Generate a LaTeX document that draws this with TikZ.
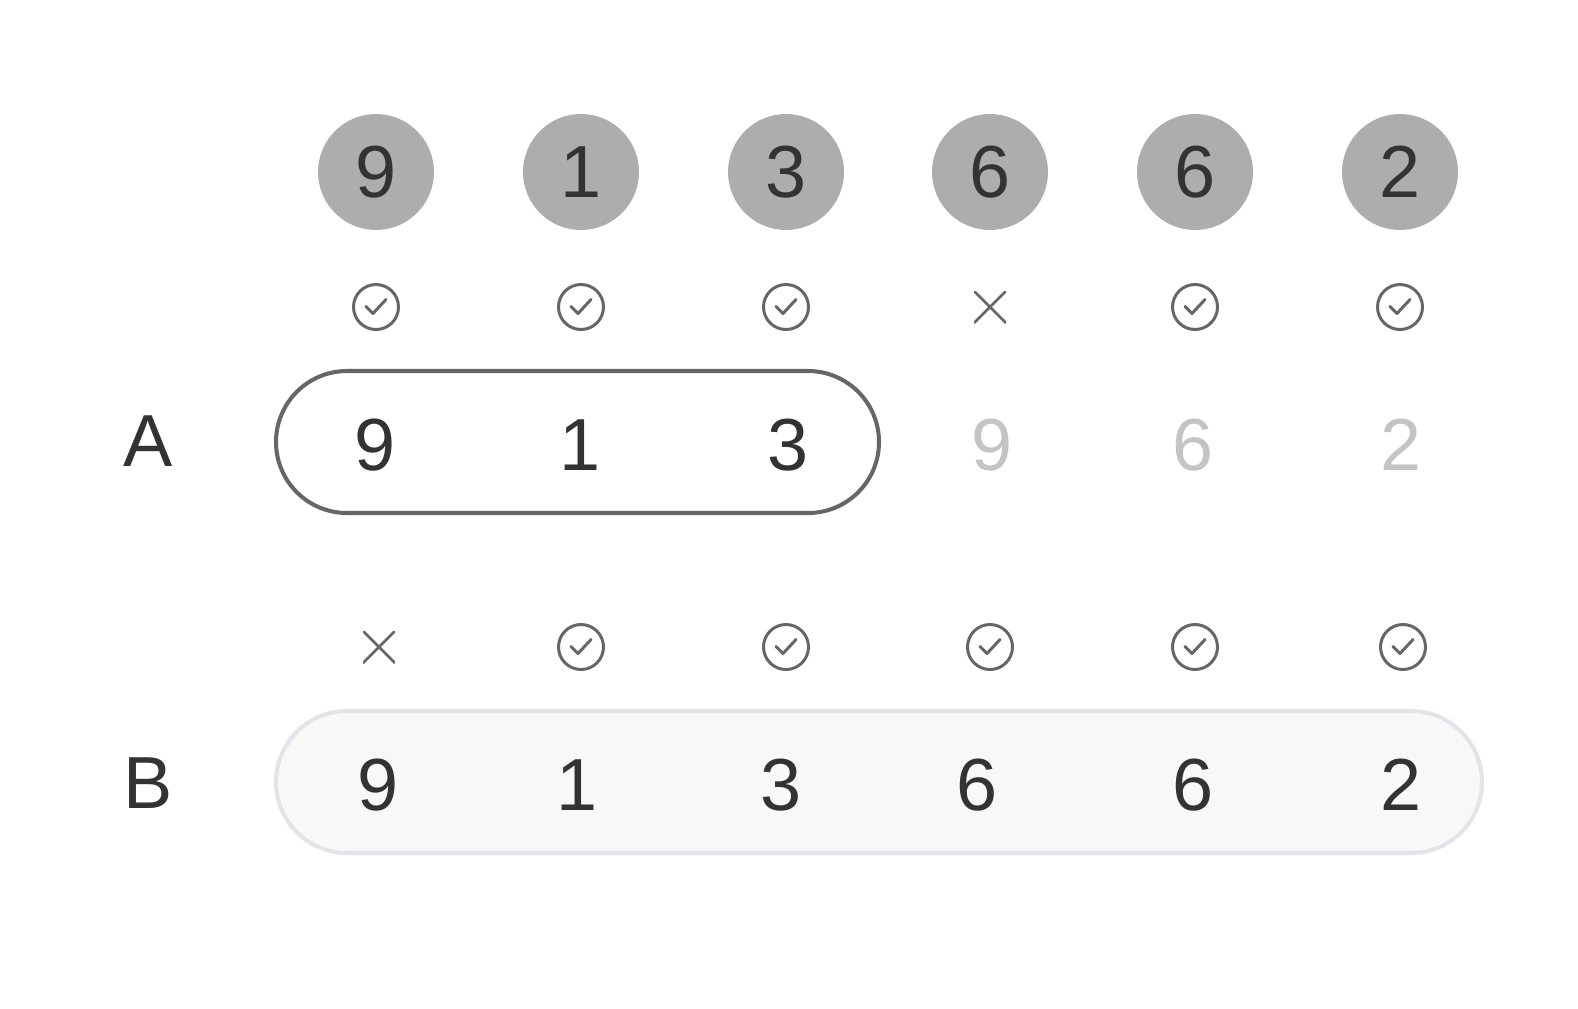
\documentclass[tikz,border=0pt]{standalone}
\usepackage{fontspec}
\setmainfont{Liberation Sans}
\usetikzlibrary{positioning}
\definecolor{ink}{HTML}{333333}
\definecolor{ballgray}{HTML}{ADADAD}
\definecolor{icongray}{HTML}{666666}
\definecolor{faded}{HTML}{C4C4C4}
\definecolor{pillfill}{HTML}{F8F8F8}
\definecolor{pillline}{HTML}{E4E3EA}
\newcommand{\bigdigit}{\fontsize{42}{50}\selectfont}
\tikzset{
  ball/.style={circle, fill=ballgray, text=ink, minimum size=2.32cm, inner sep=0pt, font=\bigdigit},
  digit/.style={text=ink, inner sep=0pt, font=\bigdigit},
  okmark/.style={circle, draw=icongray, line width=1.7pt, minimum size=0.9cm, inner sep=0pt,
    path picture={\draw[icongray, line width=1.7pt, line cap=round, line join=round]
      ([shift={(-0.2cm,0.01cm)}]path picture bounding box.center) --
      ([shift={(-0.06cm,-0.13cm)}]path picture bounding box.center) --
      ([shift={(0.2cm,0.15cm)}]path picture bounding box.center);}},
  nomark/.style={minimum size=0.64cm, inner sep=0pt,
    path picture={\draw[icongray, line width=1.5pt]
      (path picture bounding box.south west) -- (path picture bounding box.north east)
      (path picture bounding box.north west) -- (path picture bounding box.south east);}}
}
\begin{document}
\begin{tikzpicture}[x=0.02cm,y=-0.02cm]
  \useasboundingbox (0,0) rectangle (1578,1008);
  % pills
  \draw[icongray, line width=2.3pt, rounded corners=1.42cm] (276,371) rectangle (879,513);
  \draw[pillline, fill=pillfill, line width=2.3pt, rounded corners=1.42cm] (276,711) rectangle (1482,853);
  % input row
  \foreach \x/\d [count=\i] in {376/9,581/1,786/3,990/6,1195/6,1400/2}
    \node[ball] (c\i) at (\x,172) {\d};
  % marks for A
  \foreach \x/\m [count=\i] in {376/okmark,581/okmark,786/okmark,990/nomark,1195/okmark,1400/okmark}
    \node[\m] (ka\i) at (\x,307) {};
  % marks for B
  \foreach \x/\m [count=\i] in {379/nomark,581/okmark,786/okmark,990/okmark,1195/okmark,1403/okmark}
    \node[\m] (kb\i) at (\x,647) {};
  % row A
  \node[digit] (la) at (148,441) {A};
  \foreach \x/\d/\c [count=\i] in {375/9/ink,580/1/ink,788/3/ink,992/9/faded,1193/6/faded,1401/2/faded}
    \node[digit, text=\c] (a\i) at (\x,445) {\d};
  % row B
  \node[digit] (lb) at (148,783) {B};
  \foreach \x/\d [count=\i] in {378/9,577/1,781/3,977/6,1193/6,1401/2}
    \node[digit] (b\i) at (\x,785) {\d};
\end{tikzpicture}
\end{document}
